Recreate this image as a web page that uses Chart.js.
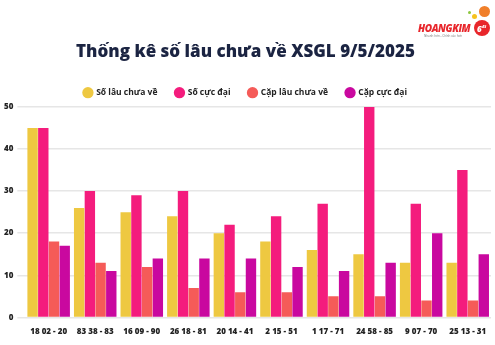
<!DOCTYPE html>
<html>
<head>
<meta charset="utf-8">
<script src="https://cdn.jsdelivr.net/npm/chart.js@4"></script>
<style>
  body { margin: 0; background: #fff; }
  #wrap { position: relative; width: 495px; height: 345px; }
  #logo { position: absolute; left: 418px; top: 4px; width: 75px; height: 34px; font-family: 'Open Sans', sans-serif; }
  #logo .t { position: absolute; left: 0; top: 17px; font-size: 10px; font-weight: 800; font-style: italic; color: #e8262b; letter-spacing: -0.4px; }
  #logo .s { position: absolute; left: 6px; top: 30px; font-size: 3px; color: #777; white-space: nowrap; }
  #logo .c { position: absolute; border-radius: 50%; }
  #logo .n { position: absolute; left: 59px; top: 19px; font-size: 8px; font-weight: 800; color: #fff; font-style: italic; }
</style>
</head>
<body>
<div id="wrap">
  <canvas id="chart" width="495" height="345"></canvas>
  <div id="logo">
    <span class="c" style="left:61px;top:2px;width:11px;height:11px;background:#f07f2a"></span>
    <span class="c" style="left:54px;top:10px;width:5px;height:5px;background:#f6c21e"></span>
    <span class="c" style="left:50px;top:7px;width:3px;height:3px;background:#8cc63f"></span>
    <span class="c" style="left:56px;top:16px;width:16px;height:16px;background:#e8262b"></span>
    <span class="n">6<sup style="font-size:4px">45</sup></span>
    <span class="t">HOANGKIM</span>
    <span class="s">Nhanh hơn - Chính xác hơn</span>
  </div>
</div>
<script>
const categories = ['18 02 - 20', '83 38 - 83', '16 09 - 90', '26 18 - 81', '20 14 - 41',
    '2 15 - 51', '1 17 - 71', '24 58 - 85', '9 07 - 70', '25 13 - 31'];
const soLauChuaVe = [45, 26, 25, 24, 20, 18, 16, 15, 13, 13];
const soCucDai = [45, 30, 29, 30, 22, 24, 27, 50, 27, 35];
const capLauChuaVe = [18, 13, 12, 7, 6, 6, 5, 5, 4, 4];
const capCucDai = [17, 11, 14, 14, 14, 12, 11, 13, 20, 15];
const yTicks = [0, 10, 20, 30, 40, 50];

const font = "'Open Sans', sans-serif";

const ctx = document.getElementById('chart').getContext('2d');
new Chart(ctx, {
    type: 'bar',
    data: {
        labels: categories,
        datasets: [
            { label: 'Số lâu chưa về', data: soLauChuaVe, backgroundColor: '#eec841' },
            { label: 'Số cực đại', data: soCucDai, backgroundColor: '#f41c7d' },
            { label: 'Cặp lâu chưa về', data: capLauChuaVe, backgroundColor: '#f55b58' },
            { label: 'Cặp cực đại', data: capCucDai, backgroundColor: '#c9089f' },
        ],
    },
    options: {
        responsive: false,
        animation: false,
        layout: { padding: { top: 42, left: 0, right: 4, bottom: 6 } },
        datasets: { bar: { categoryPercentage: 0.92, barPercentage: 0.97 } },
        plugins: {
            title: {
                display: true,
                text: 'Thống kê số lâu chưa về XSGL 9/5/2025',
                color: '#1b2442',
                font: { family: font, size: 17, weight: '800' },
                padding: { top: 0, bottom: 8 },
            },
            legend: {
                labels: {
                    usePointStyle: true,
                    pointStyle: 'circle',
                    boxWidth: 8,
                    boxHeight: 8,
                    padding: 18,
                    color: '#222',
                    font: { family: font, size: 8.5, weight: '700' },
                },
            },
            tooltip: { enabled: false },
        },
        scales: {
            x: {
                grid: { display: false },
                border: { display: false },
                ticks: { color: '#222', font: { family: font, size: 8, weight: '800' }, maxRotation: 0, autoSkip: false, padding: 2 },
            },
            y: {
                min: 0,
                max: 50,
                afterBuildTicks: (axis) => { axis.ticks = yTicks.map(v => ({ value: v })); },
                grid: { color: '#e6e6e6', lineWidth: 1.5 },
                border: { display: false },
                ticks: { color: '#222', font: { family: font, size: 8, weight: '800' }, padding: 4 },
            },
        },
    },
});
</script>
</body>
</html>
